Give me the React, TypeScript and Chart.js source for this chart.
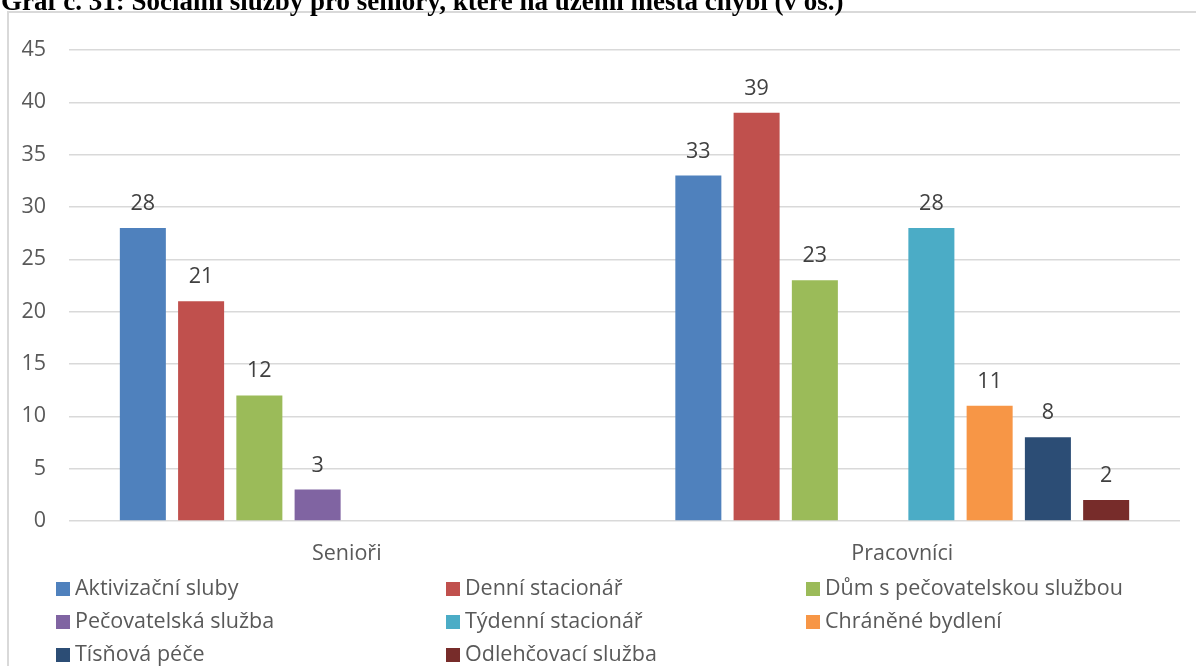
import { useEffect, useRef } from "react";
import { Chart, registerables } from "chart.js";

Chart.register(...registerables);

const titleText = "Graf č. 31: Sociální služby pro seniory, které na území města chybí (v os.)";
const categories = ["Senioři", "Pracovníci"];

const aktivizacniSluby = [28, 33];
const denniStacionar = [21, 39];
const dumSPecovatelskouSluzbou = [12, 23];
const pecovatelskaSluzba = [3, null];
const tydenniStacionar = [null, 28];
const chraneneBydleni = [null, 11];
const tisnovaPece = [null, 8];
const odlehcovaciSluzba = [null, 2];

const seriesNames = [
  "Aktivizační sluby",
  "Denní stacionář",
  "Dům s pečovatelskou službou",
  "Pečovatelská služba",
  "Týdenní stacionář",
  "Chráněné bydlení",
  "Tísňová péče",
  "Odlehčovací služba",
];
const seriesValues = [
  aktivizacniSluby,
  denniStacionar,
  dumSPecovatelskouSluzbou,
  pecovatelskaSluzba,
  tydenniStacionar,
  chraneneBydleni,
  tisnovaPece,
  odlehcovaciSluzba,
];
const seriesColors = ["#4F81BD", "#C0504D", "#9BBB59", "#8064A2", "#4BACC6", "#F79646", "#2C4D75", "#772C2A"];

const yMin = 0;
const yMax = 45;
const yStep = 5;

const FONT = "'Open Sans', 'Noto Sans', sans-serif";
const FONT_SIZE = 21.5;

const decorPlugin = {
  id: "decor",
  beforeDraw(chart: any) {
    const ctx = chart.ctx;
    ctx.save();
    ctx.fillStyle = "#ffffff";
    ctx.fillRect(0, 0, chart.width, chart.height);
    ctx.strokeStyle = "#d9d9d9";
    ctx.lineWidth = 2;
    ctx.strokeRect(8, 12, chart.width + 20, chart.height + 20);
    ctx.restore();
  },
  afterDatasetsDraw(chart: any) {
    const ctx = chart.ctx;
    ctx.save();
    ctx.font = `${FONT_SIZE}px ${FONT}`;
    ctx.fillStyle = "#404040";
    ctx.textAlign = "center";
    ctx.textBaseline = "alphabetic";
    chart.data.datasets.forEach((ds: any, i: number) => {
      const meta = chart.getDatasetMeta(i);
      meta.data.forEach((el: any, j: number) => {
        const v = ds.data[j];
        if (v === null || v === undefined) return;
        ctx.fillText(String(v), el.x, el.y - 18);
      });
    });
    ctx.restore();
  },
  afterDraw(chart: any) {
    const ctx = chart.ctx;
    ctx.save();
    // title (clipped at top as in the source)
    ctx.font = `bold 27px 'Liberation Serif', 'Times New Roman', serif`;
    ctx.fillStyle = "#000000";
    ctx.textAlign = "left";
    ctx.textBaseline = "alphabetic";
    ctx.fillText(titleText, 1, 10);
    // legend in three columns
    const colX = [56, 446, 806];
    const rowY = [589, 622, 655];
    ctx.font = `${FONT_SIZE}px ${FONT}`;
    ctx.textBaseline = "middle";
    chart.data.datasets.forEach((ds: any, i: number) => {
      const c = i % 3;
      const r = Math.floor(i / 3);
      const x = colX[c];
      const y = rowY[r];
      ctx.fillStyle = ds.backgroundColor;
      ctx.fillRect(x, y - 7, 14, 14);
      ctx.fillStyle = "#595959";
      ctx.fillText(ds.label, x + 19, y);
    });
    ctx.restore();
  },
};

export default function App() {
  const ref = useRef<HTMLCanvasElement | null>(null);
  useEffect(() => {
    document.body.style.margin = "0";
    const canvas = ref.current;
    if (!canvas) return;
    const chart = new Chart(canvas, {
      type: "bar",
      data: {
        labels: categories,
        datasets: seriesNames.map((name, i) => ({
          label: name,
          data: seriesValues[i],
          backgroundColor: seriesColors[i],
          borderWidth: 0,
          categoryPercentage: 0.839,
          barPercentage: 0.79,
        })),
      },
      options: {
        responsive: false,
        animation: false,
        devicePixelRatio: 1,
        layout: { padding: { top: 50, right: 16, left: 0, bottom: 0 } },
        plugins: {
          legend: { display: false },
          title: { display: false },
          tooltip: { enabled: false },
        },
        scales: {
          x: {
            grid: { display: false, drawTicks: false },
            border: { display: false },
            ticks: {
              color: "#595959",
              font: { family: FONT, size: FONT_SIZE },
              padding: 20,
            },
            afterFit(scale: any) {
              scale.height = 145;
            },
          },
          y: {
            min: yMin,
            max: yMax,
            grid: { color: "#d9d9d9", lineWidth: 1.5, drawTicks: false },
            border: { display: false },
            ticks: {
              stepSize: yStep,
              color: "#595959",
              font: { family: FONT, size: FONT_SIZE },
              padding: 23,
            },
            afterFit(scale: any) {
              scale.width = 69;
            },
          },
        },
      },
      plugins: [decorPlugin],
    });
    return () => chart.destroy();
  }, []);
  return (
    <div style={{ width: 1196, height: 666, overflow: "hidden" }}>
      <canvas ref={ref} width={1196} height={666} style={{ display: "block" }} />
    </div>
  );
}
